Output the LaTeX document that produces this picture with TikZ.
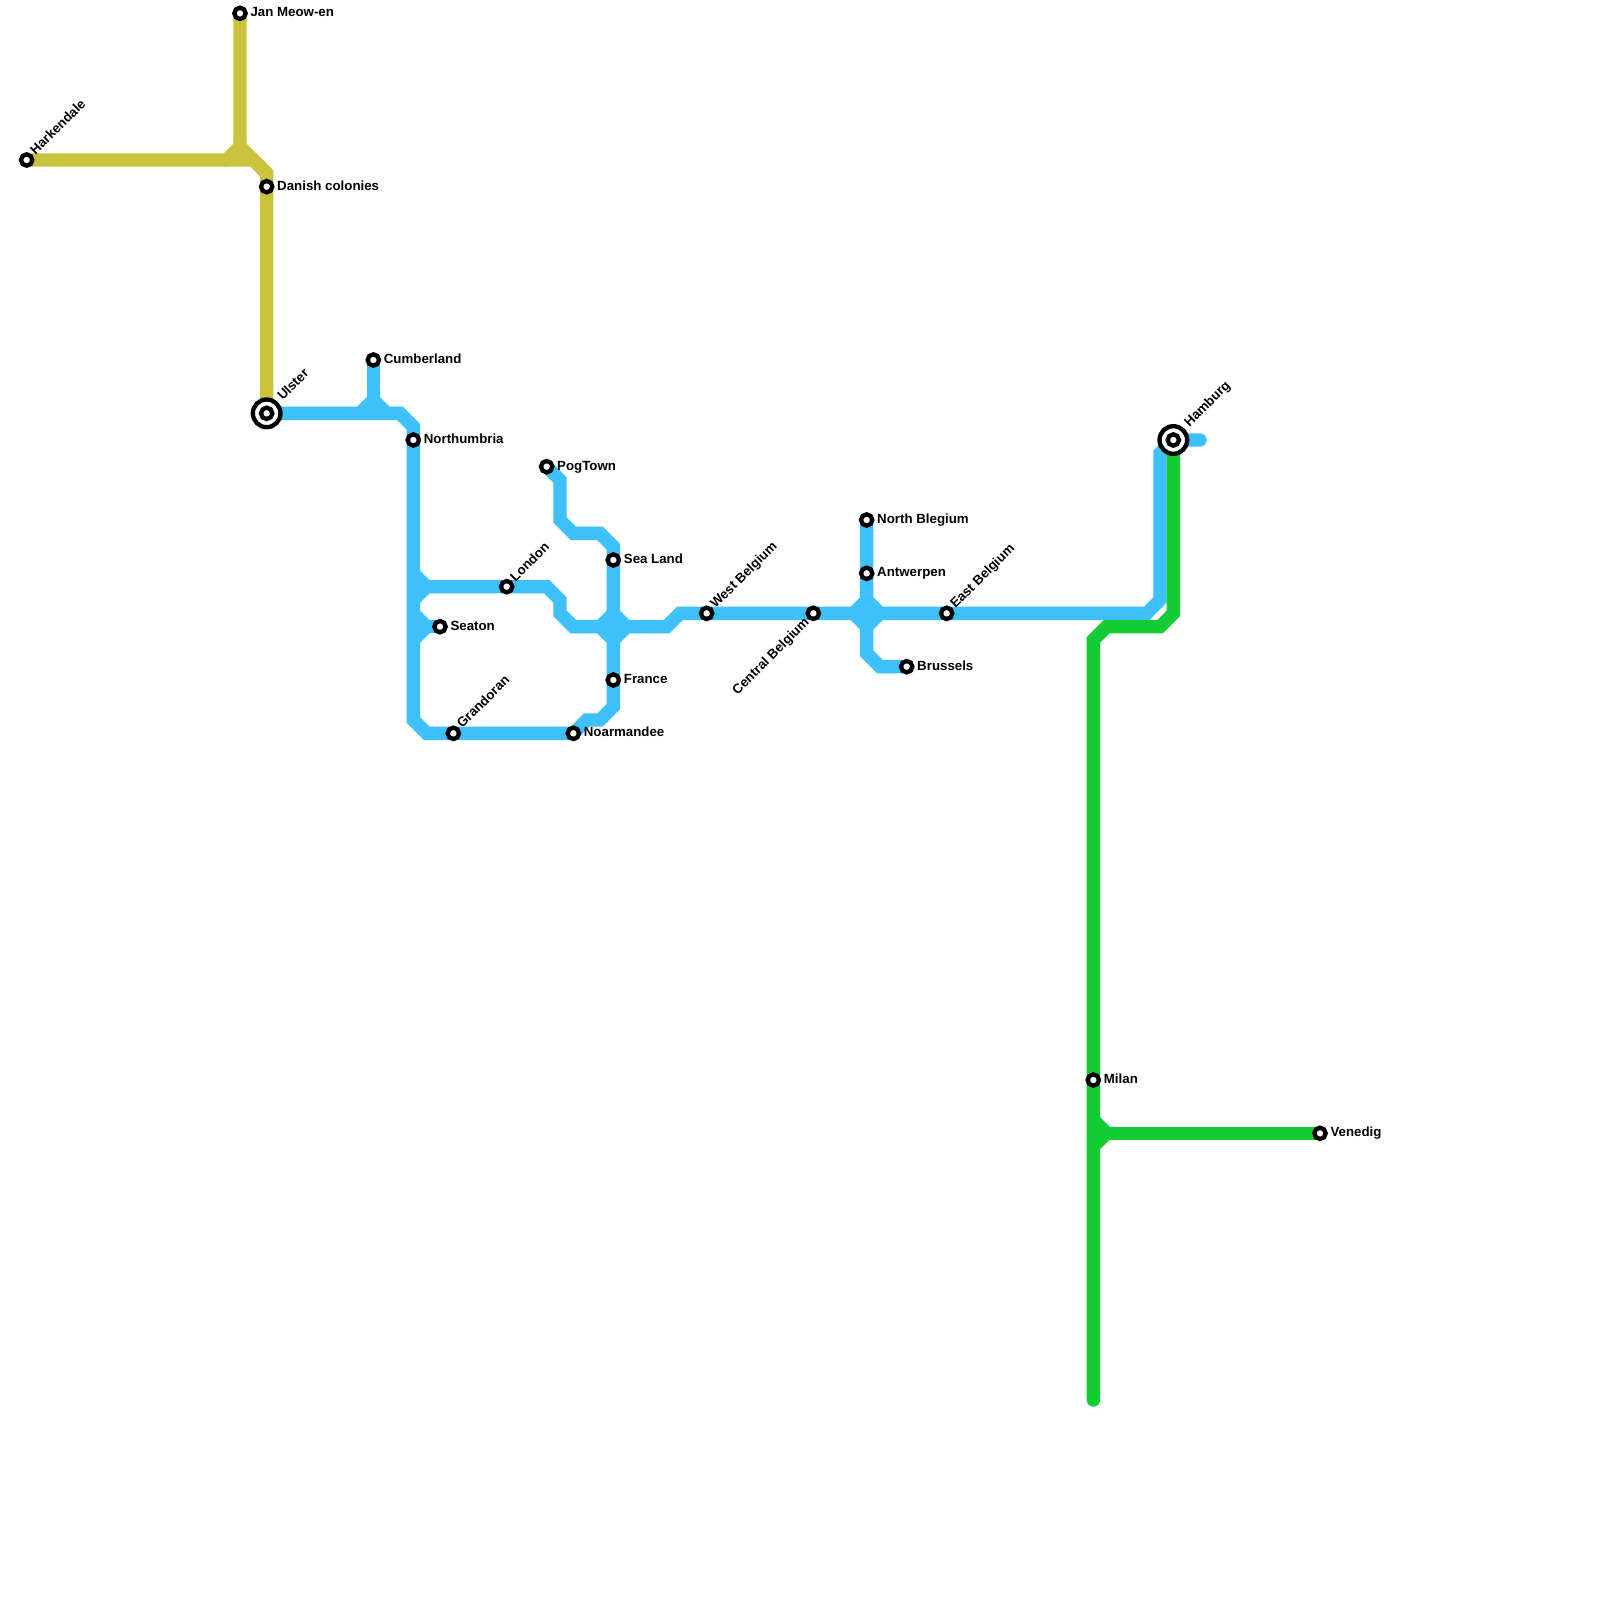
\documentclass[tikz,border=0pt]{standalone}
\usepackage{fontspec}
\setmainfont{Liberation Sans}
\pgfdeclarelayer{lines}
\pgfsetlayers{lines,main}
\definecolor{mapyellow}{HTML}{C9C43C}
\definecolor{mapblue}{HTML}{3EC0FB}
\definecolor{mapgreen}{HTML}{14CC33}
\tikzset{
  yellowline/.style={draw=mapyellow, line width=0.4cm, line cap=round, line join=miter},
  blueline/.style={draw=mapblue, line width=0.4cm, line cap=round, line join=miter},
  greenline/.style={draw=mapgreen, line width=0.4cm, line cap=round, line join=miter},
  stn/.style={circle, draw=black, fill=white, line width=0.13cm, minimum size=0.34cm, inner sep=0pt},
  bigstn/.style={circle, draw=black, fill=white, line width=0.13cm, minimum size=0.83cm, inner sep=0pt},
  lbl/.style={font=\fontsize{11.34}{13}\selectfont\bfseries, inner sep=0pt, anchor=base west, xshift=0.31cm, yshift=-0.105cm},
  uplbl/.style={font=\fontsize{11.34}{13}\selectfont\bfseries, inner sep=0pt, anchor=base west, rotate=45, xshift=0.277cm, yshift=-0.098cm}
}
\begin{document}
\begin{tikzpicture}[x=0.4cm, y=-0.4cm]

    \useasboundingbox (0,0) rectangle (120,120);

    % Yellow stations
    \node[stn] (harkendale) at (2,12) {};
    \node[stn] (janmeowen) at (18,1) {};
    \node[stn] (danish) at (20,14) {};

    % Blue stations
    \node[bigstn] (ulster) at (20,31) {};
    \node[stn] (ulsterin) at (20,31) {};
    \node[stn] (cumberland) at (28,27) {};
    \node[stn] (northumbria) at (31,33) {};
    \node[stn] (seaton) at (33,47) {};
    \node[stn] (grandoran) at (34,55) {};
    \node[stn] (london) at (38,44) {};
    \node[stn] (pogtown) at (41,35) {};
    \node[stn] (noarmandee) at (43,55) {};
    \node[stn] (sealand) at (46,42) {};
    \node[stn] (france) at (46,51) {};
    \node[stn] (westbelgium) at (53,46) {};
    \node[stn] (centralbelgium) at (61,46) {};
    \node[stn] (northblegium) at (65,39) {};
    \node[stn] (antwerpen) at (65,43) {};
    \node[stn] (brussels) at (68,50) {};
    \node[stn] (eastbelgium) at (71,46) {};

    % Green stations
    \node[bigstn] (hamburg) at (88,33) {};
    \node[stn] (hamburgin) at (88,33) {};
    \node[stn] (milan) at (82,81) {};
    \node[stn] (venedig) at (99,85) {};

    % Junctions and line ends
    \coordinate (yelbow) at (18,11);
    \coordinate (yfork) at (20,13);
    \coordinate (ybranch) at (17,12);
    \coordinate (cumberfoot) at (28,30);
    \coordinate (cumberleft) at (27,31);
    \coordinate (cumberright) at (29,31);
    \coordinate (seatonfoot) at (32,47);
    \coordinate (londonfoot) at (32,44);
    \coordinate (hubn) at (46,46);
    \coordinate (hubs) at (46,48);
    \coordinate (hubw) at (45,47);
    \coordinate (hube) at (47,47);
    \coordinate (belgn) at (65,45);
    \coordinate (belgs) at (65,47);
    \coordinate (belgw) at (64,46);
    \coordinate (belge) at (66,46);
    \coordinate (hamburgend) at (90,33);
    \coordinate (greenend) at (82,105);
    \coordinate (venedigfoot) at (83,85);

    \begin{pgfonlayer}{lines}
        % Yellow line
        \draw[yellowline] (janmeowen.center) -- (yelbow) -- (yfork) -- (danish.center) -- (ulster.center);
        \draw[yellowline] (harkendale.center) -- (19,12) -- (yfork);
        \draw[yellowline] (ybranch) -- (yelbow);

        % Blue line
        \draw[blueline] (ulster.center) -- (30,31) -- (31,32) -- (northumbria.center) -- (31,54) -- (32,55) -- (grandoran.center) -- (noarmandee.center) -- (44,54) -- (45,54) -- (46,53) -- (france.center) -- (sealand.center) -- (46,41) -- (45,40) -- (43,40) -- (42,39) -- (42,36) -- (pogtown.center);
        \draw[blueline] (cumberland.center) -- (cumberfoot);
        \draw[blueline] (cumberleft) -- (cumberfoot) -- (cumberright);
        \draw[blueline] (31,43) -- (londonfoot) -- (31,45);
        \draw[blueline] (31,46) -- (seatonfoot) -- (31,48);
        \draw[blueline] (seatonfoot) -- (seaton.center);
        \draw[blueline] (londonfoot) -- (london.center) -- (41,44) -- (42,45) -- (42,46) -- (43,47) -- (50,47) -- (51,46) -- (westbelgium.center) -- (centralbelgium.center) -- (eastbelgium.center) -- (86,46) -- (87,45) -- (87,34) -- (hamburg.center) -- (hamburgend);
        \draw[blueline, fill=mapblue] (hubn) -- (hube) -- (hubs) -- (hubw) -- cycle;
        \draw[blueline, fill=mapblue] (belgn) -- (belge) -- (belgs) -- (belgw) -- cycle;
        \draw[blueline] (northblegium.center) -- (antwerpen.center) -- (65,49) -- (66,50) -- (brussels.center);

        % Green line
        \draw[greenline] (hamburg.center) -- (88,46) -- (87,47) -- (83,47) -- (82,48) -- (milan.center) -- (greenend);
        \draw[greenline] (82,84) -- (venedigfoot) -- (82,86);
        \draw[greenline] (venedigfoot) -- (venedig.center);
    \end{pgfonlayer}

    % Labels to the right
    \node[lbl] (janmeowenname) at (janmeowen.center) {Jan Meow-en};
    \node[lbl] (danishname) at (danish.center) {Danish colonies};
    \node[lbl] (cumberlandname) at (cumberland.center) {Cumberland};
    \node[lbl] (northumbrianame) at (northumbria.center) {Northumbria};
    \node[lbl] (seatonname) at (seaton.center) {Seaton};
    \node[lbl] (pogtownname) at (pogtown.center) {PogTown};
    \node[lbl] (noarmandeename) at (noarmandee.center) {Noarmandee};
    \node[lbl] (sealandname) at (sealand.center) {Sea Land};
    \node[lbl] (francename) at (france.center) {France};
    \node[lbl] (northblegiumname) at (northblegium.center) {North Blegium};
    \node[lbl] (antwerpenname) at (antwerpen.center) {Antwerpen};
    \node[lbl] (brusselsname) at (brussels.center) {Brussels};
    \node[lbl] (milanname) at (milan.center) {Milan};
    \node[lbl] (venedigname) at (venedig.center) {Venedig};

    % Slanted labels
    \node[uplbl] (harkendalename) at (harkendale.center) {Harkendale};
    \node[uplbl, xshift=0.324cm, yshift=0.02cm] (ulstername) at (ulster.center) {Ulster};
    \node[uplbl] (grandoranname) at (grandoran.center) {Grandoran};
    \node[uplbl] (londonname) at (london.center) {London};
    \node[uplbl] (westbelgiumname) at (westbelgium.center) {West Belgium};
    \node[uplbl] (eastbelgiumname) at (eastbelgium.center) {East Belgium};
    \node[uplbl, xshift=0.324cm, yshift=0.02cm] (hamburgname) at (hamburg.center) {Hamburg};
    \node[uplbl, anchor=base east, xshift=-0.551cm, yshift=-0.031cm] (centralbelgiumname) at (centralbelgium.center) {Central Belgium};

\end{tikzpicture}
\end{document}
